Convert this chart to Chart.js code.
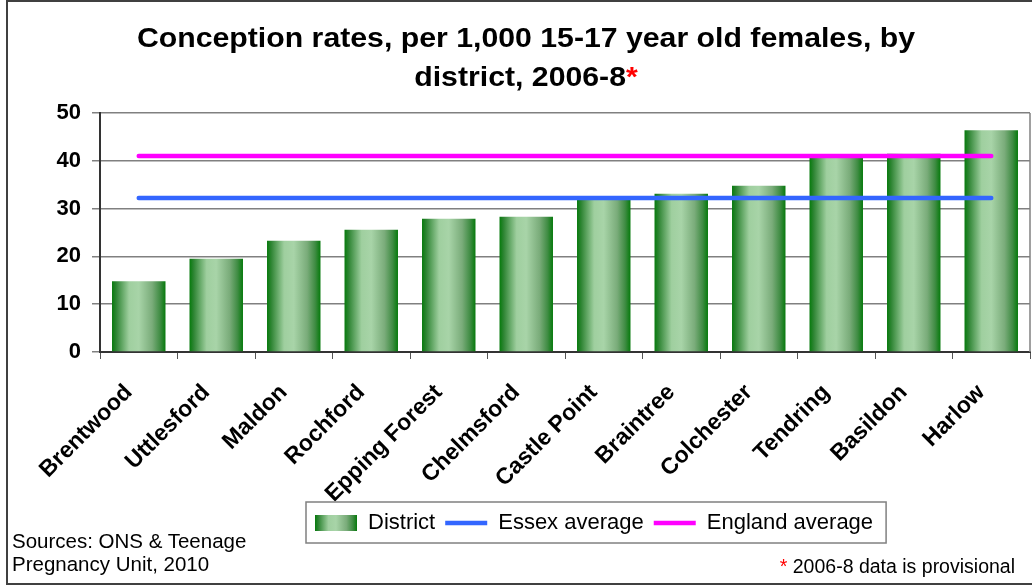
<!DOCTYPE html>
<html>
<head>
<meta charset="utf-8">
<title>Conception rates by district, 2006-8</title>
<script src="https://cdn.jsdelivr.net/npm/chart.js@4.4.1/dist/chart.umd.min.js"></script>
<style>
  body { margin: 0; background: #fff; font-family: Arial, "Liberation Sans", sans-serif; }
  #wrap { position: relative; width: 1032px; height: 586px; overflow: hidden; }
  canvas { position: absolute; left: 0; top: 0; }
  #frame { position: absolute; left: 6px; top: 0; width: 1040px; height: 581px; border: 2px solid #404040; pointer-events: none; }
  #title { position: absolute; left: 26px; top: 19px; width: 1000px; text-align: center; font-weight: bold; font-size: 27px; line-height: 39px; transform: scaleX(1.12); }
  .star { color: #ff0000; }
  #sources { position: absolute; left: 12px; top: 529px; font-size: 20.5px; line-height: 23px; }
  #note { position: absolute; right: 17px; top: 555px; font-size: 19.5px; line-height: 22px; white-space: nowrap; }
</style>
</head>
<body>
<div id="wrap">
  <canvas id="chart" width="1032" height="586"></canvas>
  <div id="title">Conception rates, per 1,000 15-17 year old females, by<br>district, 2006-8<span class="star">*</span></div>
  <div id="sources">Sources: ONS &amp; Teenage<br>Pregnancy Unit, 2010</div>
  <div id="note"><span class="star">*</span> 2006-8 data is provisional</div>
  <div id="frame"></div>
</div>
<script>
// districts, sorted from lowest to highest rate
const districts = ['Brentwood', 'Uttlesford', 'Maldon', 'Rochford', 'Epping Forest', 'Chelmsford',
    'Castle Point', 'Braintree', 'Colchester', 'Tendring', 'Basildon', 'Harlow'];
// conception rate per 1,000 females aged 15-17
const districtRates = [14.8, 19.5, 23.3, 25.6, 27.9, 28.3, 31.8, 33.1, 34.8, 40.6, 41.5, 46.4];
const essexAverage = 32.2;
const englandAverage = 41.0;
const yTicks = [0, 10, 20, 30, 40, 50];

const seriesNames = ['District', 'Essex average', 'England average'];
const chartFont = 'Arial, "Liberation Sans", sans-serif';

// the green "cylinder" look of the bars
function barGradient(ctx, left, right) {
    const g = ctx.createLinearGradient(left, 0, right, 0);
    g.addColorStop(0, '#067a0c');
    g.addColorStop(0.08, '#2f8534');
    g.addColorStop(0.32, '#9fcf9f');
    g.addColorStop(0.5, '#a8d4a8');
    g.addColorStop(0.75, '#7aac7a');
    g.addColorStop(0.9, '#3f8c43');
    g.addColorStop(1, '#067a0c');
    return g;
}

function barFill(context) {
    const chart = context.chart;
    const x = chart.scales.x;
    if (!chart.chartArea || !x || context.dataIndex === undefined) {
        return '#5aa85a';
    }
    const centre = x.getPixelForValue(context.dataIndex);
    const w = (x.width / districts.length) * 0.69;
    return barGradient(chart.ctx, centre - w / 2, centre + w / 2);
}

const extras = {
    id: 'extras',
    afterLayout(chart) {
        // move the legend row to the right, like the original
        const legend = chart.legend;
        const pad = legend.options.labels.padding;
        const start = (legend.left + pad + legend.right - legend.lineWidths[0]) / 2;
        const dx = 315 - start;
        legend.left += dx;
        legend.right += dx;
    },
    beforeDatasetsDraw(chart) {
        const { ctx, chartArea } = chart;
        ctx.save();
        ctx.strokeStyle = '#808080';
        ctx.lineWidth = 1.5;
        ctx.beginPath();
        ctx.moveTo(chartArea.right, chartArea.top);
        ctx.lineTo(chartArea.right, chartArea.bottom);
        ctx.stroke();
        ctx.restore();
    },
    afterDraw(chart) {
        const ctx = chart.ctx;
        const boxes = chart.legend.legendHitBoxes;
        if (!boxes || !boxes.length) return;
        const first = boxes[0];
        const last = boxes[boxes.length - 1];
        ctx.save();
        // frame around the legend
        ctx.strokeStyle = '#808080';
        ctx.lineWidth = 1.5;
        ctx.strokeRect(first.left - 9, first.top - 10, last.left + last.width + 13 - (first.left - 9), first.height + 19);
        // gradient swatch for the bars
        const cy = first.top + 11;
        ctx.fillStyle = barGradient(ctx, first.left, first.left + 42);
        ctx.fillRect(first.left, cy - 8, 42, 16);
        ctx.restore();
    }
};

new Chart(document.getElementById('chart'), {
    type: 'bar',
    data: {
        labels: districts,
        datasets: [{
            label: seriesNames[0],
            data: districtRates,
            backgroundColor: barFill,
            borderWidth: 0,
            barPercentage: 0.69,
            categoryPercentage: 1,
            order: 3
        }, {
            type: 'line',
            label: seriesNames[1],
            data: districts.map(() => essexAverage),
            borderColor: '#3366ff',
            backgroundColor: '#3366ff',
            borderWidth: 4.5,
            borderCapStyle: 'round',
            pointRadius: 0,
            order: 2
        }, {
            type: 'line',
            label: seriesNames[2],
            data: districts.map(() => englandAverage),
            borderColor: '#ff00ff',
            backgroundColor: '#ff00ff',
            borderWidth: 4.5,
            borderCapStyle: 'round',
            pointRadius: 0,
            order: 1
        }]
    },
    options: {
        responsive: false,
        animation: false,
        devicePixelRatio: 1,
        layout: { padding: { top: 113, left: 40, right: 2, bottom: 42 } },
        plugins: {
            title: { display: false },
            tooltip: { enabled: false },
            legend: {
                position: 'bottom',
                labels: {
                    color: '#000',
                    font: { family: chartFont, size: 22 },
                    usePointStyle: true,
                    pointStyleWidth: 42,
                    boxHeight: 16,
                    padding: 10,
                    sort: (a, b) => a.datasetIndex - b.datasetIndex,
                    generateLabels(chart) {
                        const items = Chart.defaults.plugins.legend.labels.generateLabels(chart);
                        items.forEach(item => {
                            if (item.datasetIndex === 0) {
                                item.pointStyle = 'rect';
                                item.lineWidth = 0;
                                item.strokeStyle = 'rgba(0,0,0,0)';
                            } else {
                                item.pointStyle = 'line';
                                item.lineWidth = 4.5;
                            }
                        });
                        return items;
                    }
                }
            }
        },
        scales: {
            x: {
                offset: true,
                afterFit(scale) { scale.height = 150; },
                grid: { display: true, drawOnChartArea: false, drawTicks: true, tickLength: 7, color: '#555', offset: true },
                border: { display: true, color: '#333', width: 2 },
                ticks: {
                    color: '#000',
                    font: { family: chartFont, size: 23, weight: 'bold' },
                    minRotation: 45,
                    maxRotation: 45,
                    padding: 20,
                    labelOffset: -10,
                    autoSkip: false
                }
            },
            y: {
                min: yTicks[0],
                max: yTicks[yTicks.length - 1],
                afterFit(scale) { scale.width = 60; },
                grid: { color: '#808080', lineWidth: 1.5, tickLength: 8 },
                border: { display: true, color: '#333', width: 2 },
                ticks: {
                    stepSize: yTicks[1] - yTicks[0],
                    padding: 11,
                    color: '#000',
                    font: { family: chartFont, size: 22, weight: 'bold' }
                }
            }
        }
    },
    plugins: [extras]
});
</script>
</body>
</html>
